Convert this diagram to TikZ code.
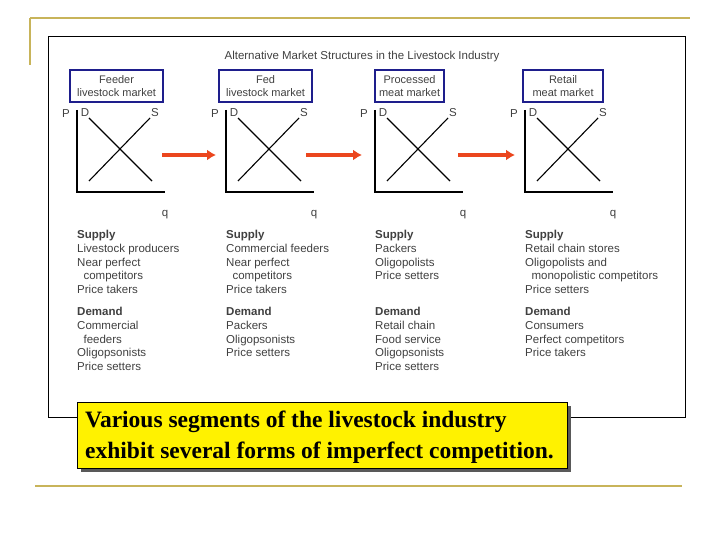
\documentclass[tikz,border=0pt]{standalone}
\usepackage{fontspec}
\setmainfont{Liberation Serif}
\newfontfamily\arialf{Liberation Sans}
\usetikzlibrary{arrows.meta}
\begin{document}
\begin{tikzpicture}[x=1pt,y=-1pt,
  gold/.style={draw={rgb,255:red,200;green,180;blue,90},line width=2pt},
  mbox/.style={draw={rgb,255:red,30;green,30;blue,140},line width=2.2pt,align=center,font=\arialf\fontsize{11}{13}\selectfont,text=black!75,minimum height=32pt,inner sep=1pt},
  lbl/.style={font=\arialf\fontsize{11.5}{13}\selectfont,text=black!75,inner sep=0pt},
  ax/.style={black,line width=1.1pt},
  txt/.style={font=\arialf\fontsize{11.5}{13.8}\selectfont,text=black!75,align=left,anchor=north west,inner sep=0pt},
  redarrow/.style={draw={rgb,255:red,235;green,70;blue,30},line width=4pt,-{Latex[length=9pt,width=11pt]}}]
\useasboundingbox (0,0) rectangle (720,540);
\draw[gold] (30,18) -- (690,18);
\draw[gold] (30,18) -- (30,65);
\draw[gold] (35,486) -- (682,486);
\draw[black,line width=0.8pt] (48,36) rectangle (685,417);
\node[lbl] (title) at (362,57) {Alternative Market Structures in the Livestock Industry};
\foreach \i/\dx/\name/\w in {1/0/{Feeder\\livestock market}/93, 2/149/{Fed\\livestock market}/93, 3/305/{Processed\\meat market}/69, 4/453/{Retail\\meat market}/80}{
  \begin{scope}[xshift=\dx]
  \node[mbox,minimum width=\w pt,anchor=north west] (box\i) at (69,69) {\name};
  \end{scope}}
\foreach \i/\dx in {1/0,2/149,3/298,4/448}{
  \begin{scope}[xshift=\dx]
  \coordinate (o\i) at (77,192);
  \draw[ax] (77,110) -- (o\i) -- (165,192);
  \draw[ax] (89,118) -- (152,181);
  \draw[ax] (150,118) -- (89,181);
  \node[lbl] (P\i) at (66,114) {P};
  \node[lbl] (D\i) at (85,113) {D};
  \node[lbl] (S\i) at (155,113) {S};
  \node[lbl] (q\i) at (165,215) {q};
  \end{scope}}
\coordinate (a1s) at (162,155); \coordinate (a1e) at (216,155);
\coordinate (a2s) at (306,155); \coordinate (a2e) at (362,155);
\coordinate (a3s) at (458,155); \coordinate (a3e) at (515,155);
\draw[redarrow] (a1s) -- (a1e);
\draw[redarrow] (a2s) -- (a2e);
\draw[redarrow] (a3s) -- (a3e);
\node[txt] (s1) at (77,230) {\textbf{Supply}\\Livestock producers\\Near perfect\\\ \ competitors\\Price takers};
\node[txt] (d1) at (77,307) {\textbf{Demand}\\Commercial\\\ \ feeders\\Oligopsonists\\Price setters};
\node[txt] (s2) at (226,230) {\textbf{Supply}\\Commercial feeders\\Near perfect\\\ \ competitors\\Price takers};
\node[txt] (d2) at (226,307) {\textbf{Demand}\\Packers\\Oligopsonists\\Price setters};
\node[txt] (s3) at (375,230) {\textbf{Supply}\\Packers\\Oligopolists\\Price setters};
\node[txt] (d3) at (375,307) {\textbf{Demand}\\Retail chain\\Food service\\Oligopsonists\\Price setters};
\node[txt] (s4) at (525,230) {\textbf{Supply}\\Retail chain stores\\Oligopolists and\\\ \ monopolistic competitors\\Price setters};
\node[txt] (d4) at (525,307) {\textbf{Demand}\\Consumers\\Perfect competitors\\Price takers};
\fill[black!65] (81,406) rectangle (571,472);
\node[draw=black,fill=yellow,line width=0.8pt,minimum width=490pt,minimum height=66pt,anchor=north west,inner sep=0pt] (cap) at (77,402) {};
\node[font=\bfseries\fontsize{23.5}{31}\selectfont,align=left,anchor=west,inner sep=0pt] (captext) at (85,437) {Various segments of the livestock industry\\exhibit several forms of imperfect competition.};
\end{tikzpicture}
\end{document}
